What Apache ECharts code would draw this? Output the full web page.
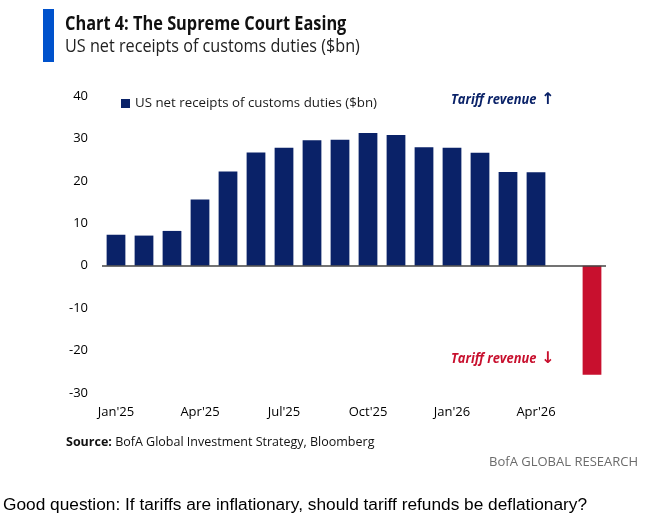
<!DOCTYPE html>
<html>
<head>
<meta charset="utf-8">
<script src="https://cdn.jsdelivr.net/npm/echarts@6/dist/echarts.min.js"></script>
<style>
    html, body { margin: 0; padding: 0; background: #fff; }
    #chart { width: 651px; height: 517px; }
</style>
</head>
<body>
<div id="chart"></div>
<script>
    // months on the category axis, May'26 left empty
    var months = ["Jan'25", "Feb'25", "Mar'25", "Apr'25", "May'25", "Jun'25", "Jul'25", "Aug'25", "Sep'25",
        "Oct'25", "Nov'25", "Dec'25", "Jan'26", "Feb'26", "Mar'26", "Apr'26", "May'26", "Jun'26"];
    // US net receipts of customs duties ($bn)
    var receipts = [7.3, 7.1, 8.2, 15.6, 22.2, 26.7, 27.8, 29.6, 29.7, 31.3, 30.8, 27.9, 27.8, 26.6, 22.1, 22.0, null, -25.7];
    var yTicks = [-30, -20, -10, 0, 10, 20, 30, 40];

    var navy = '#0A2268';
    var red = '#C8102E';
    var font = "'Open Sans', sans-serif";

    var barData = receipts.map(function (v) {
        if (v !== null && v < 0) {
            return { value: v, itemStyle: { color: red } };
        }
        return v;
    });

    var myChart = echarts.init(document.getElementById('chart'));
    var option = {
        animation: false,
        backgroundColor: '#fff',
        grid: {
            left: 102,
            right: 45,
            top: 96,
            bottom: 124
        },
        legend: {
            left: 116,
            top: 92,
            icon: 'rect',
            itemWidth: 9,
            itemHeight: 9,
            textStyle: { color: '#1a1a1a', fontSize: 13.3, fontFamily: font },
            data: ['US net receipts of customs duties ($bn)']
        },
        xAxis: {
            type: 'category',
            data: months,
            axisLine: { show: false, onZero: false },
            axisTick: { show: false },
            axisLabel: {
                interval: 2,
                margin: 13,
                color: '#000',
                fontSize: 13,
                fontFamily: font
            }
        },
        yAxis: {
            type: 'value',
            min: yTicks[0],
            max: yTicks[yTicks.length - 1],
            interval: 10,
            axisLine: { show: false },
            axisTick: { show: false },
            splitLine: { show: false },
            axisLabel: {
                margin: 14,
                color: '#000',
                fontSize: 13,
                fontFamily: font
            }
        },
        series: [{
            name: 'US net receipts of customs duties ($bn)',
            type: 'bar',
            data: barData,
            barWidth: '67%',
            itemStyle: { color: navy },
            markLine: {
                silent: true,
                symbol: 'none',
                label: { show: false },
                lineStyle: { color: '#444', width: 1.5, type: 'solid' },
                data: [{ yAxis: 0 }]
            }
        }],
        graphic: [
            { type: 'rect', shape: { x: 43, y: 9, width: 11, height: 53 }, style: { fill: '#0052CC' } },
            {
                type: 'text', x: 65, y: 25, scaleX: 0.86,
                style: {
                    text: 'Chart 4: The Supreme Court Easing', fill: '#111', verticalAlign: 'middle',
                    font: "bold 19px 'Open Sans', sans-serif"
                }
            },
            {
                type: 'text', x: 65, y: 47, scaleX: 0.9,
                style: {
                    text: 'US net receipts of customs duties ($bn)', fill: '#222', verticalAlign: 'middle',
                    font: "18px 'Open Sans', sans-serif"
                }
            },
            {
                type: 'text', x: 451, y: 100, scaleX: 0.92,
                style: {
                    text: 'Tariff revenue', fill: navy, verticalAlign: 'middle',
                    font: "italic bold 14px 'Open Sans', sans-serif"
                }
            },
            {
                type: 'text', x: 541, y: 100,
                style: { text: '↑', fill: navy, verticalAlign: 'middle', font: "bold 16px 'DejaVu Sans', sans-serif" }
            },
            {
                type: 'text', x: 451, y: 359, scaleX: 0.92,
                style: {
                    text: 'Tariff revenue', fill: red, verticalAlign: 'middle',
                    font: "italic bold 14px 'Open Sans', sans-serif"
                }
            },
            {
                type: 'text', x: 541, y: 359,
                style: { text: '↓', fill: red, verticalAlign: 'middle', font: "bold 16px 'DejaVu Sans', sans-serif" }
            },
            {
                type: 'text', x: 66, y: 442,
                style: {
                    text: '{b|Source:} BofA Global Investment Strategy, Bloomberg',
                    fill: '#111',
                    verticalAlign: 'middle',
                    font: "12.5px 'Open Sans', sans-serif",
                    rich: { b: { fontWeight: 'bold', fontSize: 12.5, fontFamily: font, fill: '#111' } }
                }
            },
            {
                type: 'text', x: 638, y: 462,
                style: {
                    text: 'BofA GLOBAL RESEARCH', fill: '#6b6b6b', align: 'right', verticalAlign: 'middle',
                    font: "13px 'Open Sans', sans-serif"
                }
            },
            {
                type: 'text', x: 3, y: 505,
                style: {
                    text: 'Good question: If tariffs are inflationary, should tariff refunds be deflationary?',
                    fill: '#000', verticalAlign: 'middle', font: "17.3px 'Liberation Sans', Arial, sans-serif"
                }
            }
        ]
    };
    myChart.setOption(option);
</script>
</body>
</html>
